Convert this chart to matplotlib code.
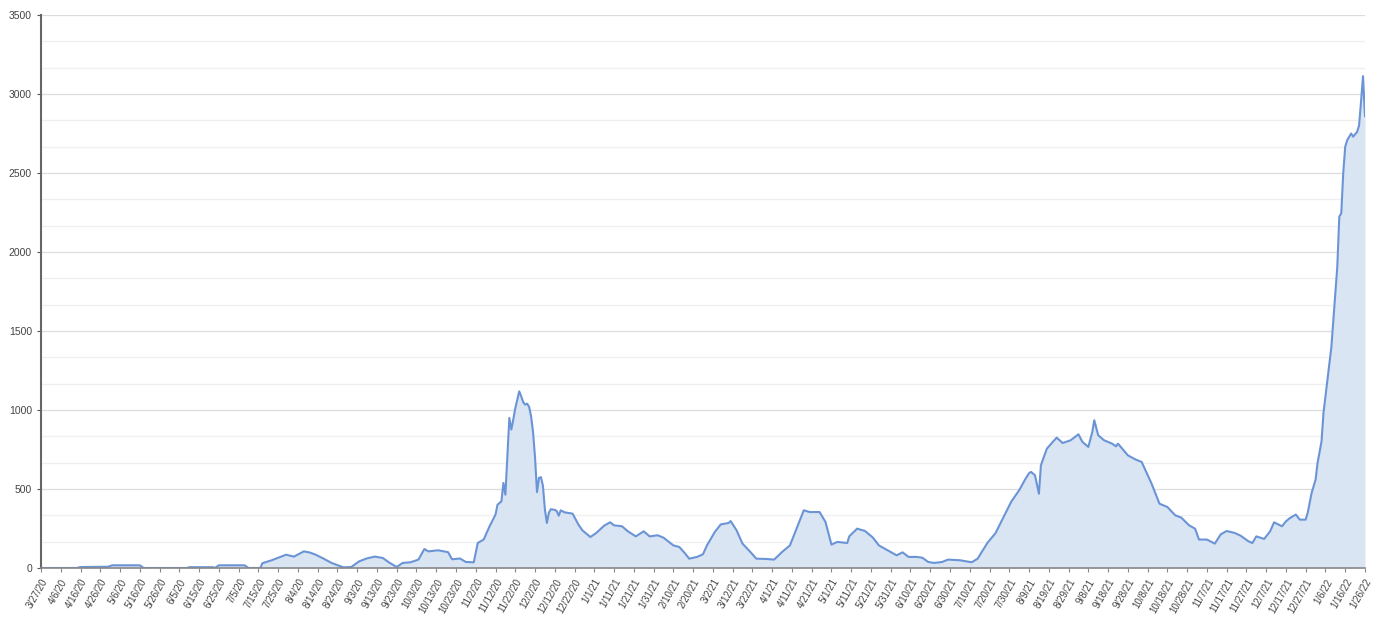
import matplotlib
matplotlib.use("Agg")
import matplotlib.pyplot as plt
import pandas as pd
from matplotlib.ticker import MultipleLocator

# valores (fecha, valor)
fechas = [
    "2020-03-27", "2020-04-14", "2020-04-16", "2020-04-30", "2020-05-02", "2020-05-16", "2020-05-18",
    "2020-06-09", "2020-06-10", "2020-06-22", "2020-06-23", "2020-06-25", "2020-07-08", "2020-07-10",
    "2020-07-16", "2020-07-17", "2020-07-22", "2020-07-29", "2020-08-02", "2020-08-07", "2020-08-10",
    "2020-08-13", "2020-08-17", "2020-08-21", "2020-08-27", "2020-08-31", "2020-09-04", "2020-09-08",
    "2020-09-12", "2020-09-16", "2020-09-19", "2020-09-23", "2020-09-26", "2020-09-30", "2020-10-04",
    "2020-10-07", "2020-10-09", "2020-10-14", "2020-10-19", "2020-10-21", "2020-10-25", "2020-10-28",
    "2020-11-01", "2020-11-03", "2020-11-06", "2020-11-09", "2020-11-12", "2020-11-13", "2020-11-15",
    "2020-11-16", "2020-11-17", "2020-11-18", "2020-11-19", "2020-11-20", "2020-11-21", "2020-11-22",
    "2020-11-23", "2020-11-24", "2020-11-25", "2020-11-26", "2020-11-27", "2020-11-28", "2020-11-29",
    "2020-11-30", "2020-12-01", "2020-12-02", "2020-12-03", "2020-12-04", "2020-12-05", "2020-12-06",
    "2020-12-07", "2020-12-08", "2020-12-09", "2020-12-10", "2020-12-12", "2020-12-13", "2020-12-14",
    "2020-12-15", "2020-12-17", "2020-12-19", "2020-12-21", "2020-12-24", "2020-12-26", "2020-12-30",
    "2021-01-02", "2021-01-06", "2021-01-09", "2021-01-11", "2021-01-15", "2021-01-18", "2021-01-22",
    "2021-01-26", "2021-01-29", "2021-02-02", "2021-02-05", "2021-02-10", "2021-02-13", "2021-02-16",
    "2021-02-18", "2021-02-22", "2021-02-25", "2021-02-27", "2021-03-03", "2021-03-06", "2021-03-10",
    "2021-03-11", "2021-03-14", "2021-03-17", "2021-03-21", "2021-03-24", "2021-03-29", "2021-04-02",
    "2021-04-06", "2021-04-10", "2021-04-13", "2021-04-17", "2021-04-20", "2021-04-25", "2021-04-28",
    "2021-05-01", "2021-05-04", "2021-05-09", "2021-05-10", "2021-05-14", "2021-05-18", "2021-05-22",
    "2021-05-25", "2021-05-28", "2021-05-31", "2021-06-03", "2021-06-06", "2021-06-09", "2021-06-13",
    "2021-06-16", "2021-06-19", "2021-06-22", "2021-06-26", "2021-06-29", "2021-07-05", "2021-07-11",
    "2021-07-14", "2021-07-16", "2021-07-19", "2021-07-23", "2021-07-27", "2021-07-31", "2021-08-04",
    "2021-08-07", "2021-08-09", "2021-08-10", "2021-08-12", "2021-08-14", "2021-08-15", "2021-08-18",
    "2021-08-21", "2021-08-23", "2021-08-26", "2021-08-30", "2021-09-03", "2021-09-05", "2021-09-08",
    "2021-09-10", "2021-09-11", "2021-09-13", "2021-09-16", "2021-09-20", "2021-09-22", "2021-09-23",
    "2021-09-28", "2021-10-02", "2021-10-05", "2021-10-10", "2021-10-14", "2021-10-18", "2021-10-22",
    "2021-10-25", "2021-10-29", "2021-11-01", "2021-11-03", "2021-11-07", "2021-11-11", "2021-11-14",
    "2021-11-17", "2021-11-21", "2021-11-24", "2021-11-28", "2021-11-30", "2021-12-02", "2021-12-06",
    "2021-12-09", "2021-12-11", "2021-12-15", "2021-12-17", "2021-12-19", "2021-12-22", "2021-12-24",
    "2021-12-27", "2021-12-28", "2021-12-30", "2022-01-01", "2022-01-02", "2022-01-04", "2022-01-05",
    "2022-01-07", "2022-01-09", "2022-01-10", "2022-01-12", "2022-01-13", "2022-01-14", "2022-01-15",
    "2022-01-16", "2022-01-17", "2022-01-19", "2022-01-20", "2022-01-22", "2022-01-23", "2022-01-24",
    "2022-01-25", "2022-01-26",
]
valores = [
    0, 0, 6, 8, 17, 17, 0,
    0, 5, 5, 0, 17, 17, 0,
    0, 30, 50, 84, 72, 105, 98,
    84, 59, 32, 4, 6, 42, 61,
    72, 63, 36, 6, 32, 36, 53,
    120, 105, 112, 100, 55, 60, 38,
    36, 158, 180, 264, 338, 400, 422,
    538, 464, 707, 950, 876, 940, 1010,
    1065, 1118, 1087, 1050, 1034, 1040, 1020,
    960, 860, 700, 480, 570, 575, 520,
    369, 285, 350, 372, 368, 360, 331,
    365, 352, 348, 344, 274, 238, 196,
    222, 268, 289, 270, 264, 232, 200,
    232, 200, 207, 192, 143, 133, 91,
    59, 70, 87, 143, 228, 276, 285,
    297, 238, 154, 101, 59, 57, 53,
    101, 143, 238, 365, 354, 354, 291,
    148, 165, 158, 200, 249, 234, 192,
    143, 122, 101, 80, 99, 70, 70,
    65, 38, 32, 38, 53, 49, 36,
    59, 100, 160, 220, 320, 420, 492,
    560, 600, 608, 587, 470, 650, 755,
    798, 825, 791, 808, 846, 798, 766,
    861, 935, 840, 808, 787, 770, 787,
    713, 686, 671, 534, 407, 386, 333,
    319, 270, 249, 180, 180, 154, 213,
    234, 222, 205, 169, 158, 200, 184,
    232, 289, 264, 295, 316, 338, 306,
    306, 348, 475, 559, 665, 800, 981,
    1192, 1400, 1570, 1909, 2224, 2245, 2500,
    2667, 2708, 2750, 2730, 2760, 2800, 2950,
    3113, 2860,
]

fecha_inicio = "2020-03-27"
fecha_fin = "2022-01-26"

x = pd.to_datetime(fechas)

plt.rcParams['font.family'] = ['Liberation Sans', 'DejaVu Sans']

fig = plt.figure(figsize=(13.81, 6.2), dpi=100)
ax = fig.add_axes([0.0297, 0.0839, 0.9587, 0.8919])

ax.fill_between(x, valores, 0, color="#dae5f4", linewidth=0)
ax.plot(x, valores, color="#6b94d6", linewidth=1.5)

# ejes
ax.set_ylim(0, 3500)
ax.set_xlim(pd.Timestamp(fecha_inicio), pd.Timestamp(fecha_fin))
ax.yaxis.set_major_locator(MultipleLocator(500))
ax.yaxis.set_minor_locator(MultipleLocator(500 / 3))
ax.grid(axis='y', which='major', color="#dcdcdc", linewidth=0.9)
ax.grid(axis='y', which='minor', color="#efefef", linewidth=0.9)
ax.set_axisbelow(True)

ticks = pd.date_range(fecha_inicio, fecha_fin, freq="10D")
ax.set_xticks(ticks)
ax.set_xticklabels([f"{t.month}/{t.day}/{t.strftime('%y')}" for t in ticks],
                   rotation=60, ha='right', rotation_mode='anchor', fontsize=7, color="#444444")

ax.tick_params(axis='y', which='major', labelsize=7.5, labelcolor="#444444", length=3, color="#555555")
ax.tick_params(axis='y', which='minor', length=0)
ax.tick_params(axis='x', length=3, color="#888888")

for s in ['top', 'right']:
    ax.spines[s].set_visible(False)
ax.spines['left'].set_color("#666666")
ax.spines['left'].set_linewidth(1.5)
ax.spines['bottom'].set_color("#888888")
ax.spines['bottom'].set_linewidth(1.2)

fig.savefig("out.png", dpi=100)
